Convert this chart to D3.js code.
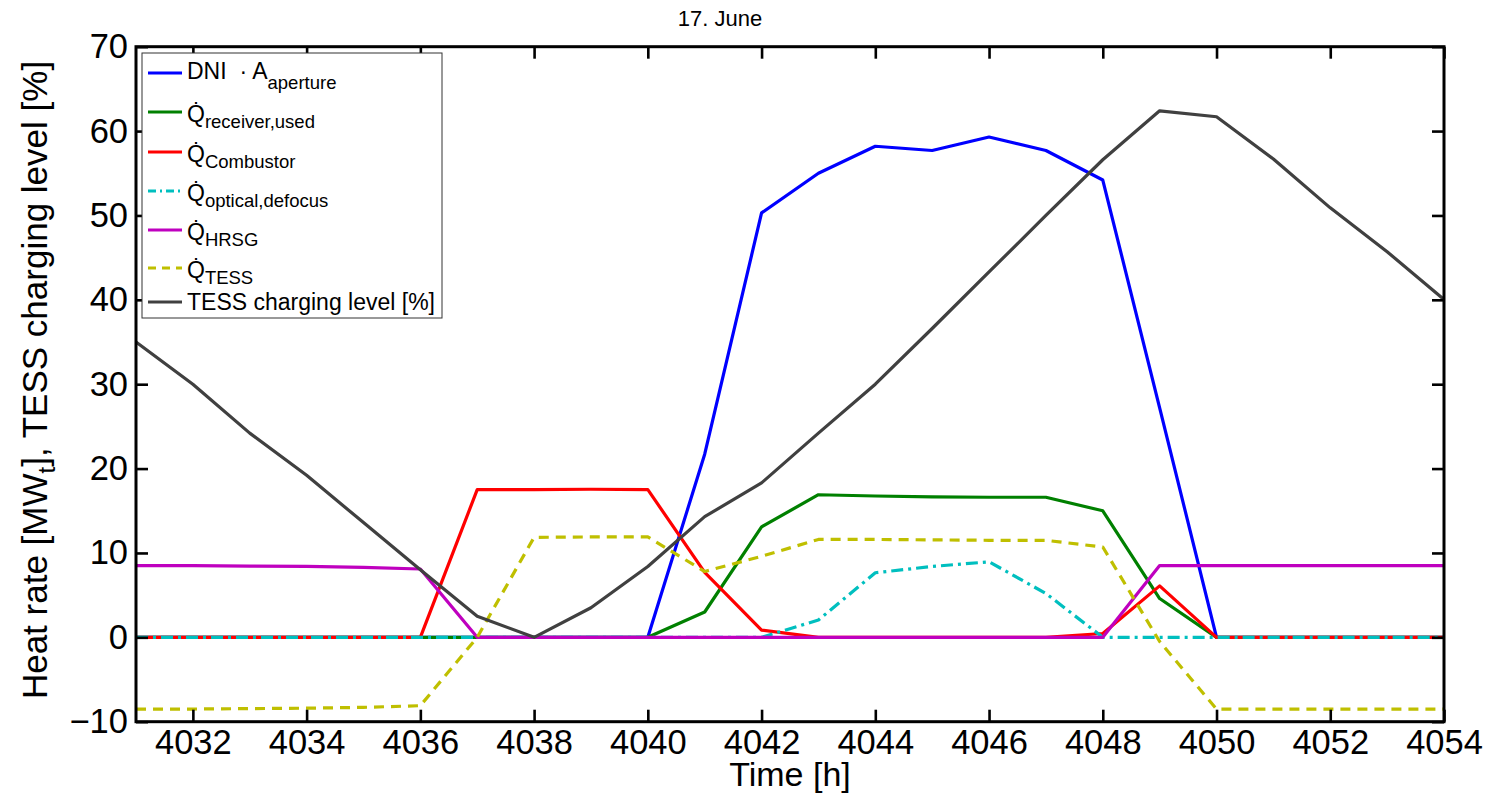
<!DOCTYPE html>
<html>
<head>
<meta charset="utf-8">
<script src="https://cdn.jsdelivr.net/npm/d3@7"></script>
<style>
    body { margin: 0; background: #fff; }
    text { font-family: "Liberation Sans", Arial, sans-serif; }
    .axis text { font-size: 34.5px; fill: #000; }
    .axis line { stroke: #000; stroke-width: 2.6px; }
    .axis path { display: none; }
    .line { fill: none; stroke-width: 3.2px; stroke-linejoin: round; }
</style>
</head>
<body>
<div id="chart"></div>
<script>
// chart values
let hours = [4031, 4032, 4033, 4034, 4035, 4036, 4037, 4038, 4039, 4040, 4041, 4042,
    4043, 4044, 4045, 4046, 4047, 4048, 4049, 4050, 4051, 4052, 4053, 4054];
let dni = [0, 0, 0, 0, 0, 0, 0, 0, 0, 0, 21.7, 50.3, 55.0, 58.2, 57.7, 59.3, 57.7, 54.2, 27.2, 0, 0, 0, 0, 0];
let receiverUsed = [0, 0, 0, 0, 0, 0, 0, 0, 0, 0, 3.0, 13.1, 16.9, 16.75, 16.65, 16.6, 16.6, 15.0, 4.6, 0, 0, 0, 0, 0];
let combustor = [0, 0, 0, 0, 0, 0, 17.5, 17.5, 17.55, 17.5, 7.7, 0.85, 0, 0, 0, 0, 0, 0.45, 6.1, 0, 0, 0, 0, 0];
let opticalDefocus = [0, 0, 0, 0, 0, 0, 0, 0, 0, 0, 0, 0, 2.05, 7.65, 8.4, 8.95, 5.2, 0, 0, 0, 0, 0, 0, 0];
let hrsg = [8.5, 8.5, 8.45, 8.4, 8.3, 8.1, 0, 0, 0, 0, 0, 0, 0, 0, 0, 0, 0, 0, 8.5, 8.5, 8.5, 8.5, 8.5, 8.5];
let tess = [-8.5, -8.5, -8.45, -8.4, -8.3, -8.1, 0, 11.85, 11.9, 11.9, 7.8, 9.6, 11.6, 11.6, 11.55, 11.5, 11.5, 10.7, -0.5, -8.5, -8.5, -8.5, -8.5, -8.5];
let chargingLevel = [35.0, 30.0, 24.2, 19.2, 13.6, 8.0, 2.5, 0, 3.5, 8.4, 14.3, 18.3, 24.2, 30.0, 36.6, 43.3, 50.0, 56.6, 62.4, 61.7, 56.7, 50.9, 45.7, 40.05];

let xTicks = [4032, 4034, 4036, 4038, 4040, 4042, 4044, 4046, 4048, 4050, 4052, 4054];
let yTicks = [-10, 0, 10, 20, 30, 40, 50, 60, 70];

let series = [
    {values: dni, color: "#0000ff", dash: null},
    {values: receiverUsed, color: "#008000", dash: null},
    {values: combustor, color: "#ff0000", dash: null},
    {values: opticalDefocus, color: "#00bfbf", dash: "12,5,3,5"},
    {values: hrsg, color: "#bf00bf", dash: null},
    {values: tess, color: "#bfbf00", dash: "10,7"},
    {values: chargingLevel, color: "#404040", dash: null}
];

let W = 1491, H = 796;
let plot = {left: 136, right: 1444, top: 46.7, bottom: 721.7};

let x = d3.scaleLinear().domain([4031, 4054]).range([plot.left, plot.right]);
let y = d3.scaleLinear().domain([-10, 70]).range([plot.bottom, plot.top]);

let svg = d3.select("#chart").append("svg")
    .attr("width", W)
    .attr("height", H);

// title
svg.append("text")
    .attr("x", 720).attr("y", 26)
    .attr("text-anchor", "middle")
    .style("font-size", "22px")
    .text("17. June");

// lines
let line = d3.line()
    .x((d, i) => x(hours[i]))
    .y((d) => y(d));

series.forEach(function (s) {
    svg.append("path")
        .datum(s.values)
        .attr("class", "line")
        .attr("stroke", s.color)
        .attr("stroke-dasharray", s.dash)
        .attr("d", line);
});

// axes, ticks pointing inward
svg.append("g")
    .attr("class", "axis")
    .attr("transform", "translate(0," + plot.bottom + ")")
    .call(d3.axisBottom(x).tickValues(xTicks).tickFormat(d3.format("d"))
        .tickSize(-12).tickSizeOuter(0).tickPadding(8));
svg.append("g")
    .attr("class", "axis")
    .attr("transform", "translate(0," + plot.top + ")")
    .call(d3.axisTop(x).tickValues(xTicks).tickSize(-12).tickSizeOuter(0).tickFormat(""));
svg.append("g")
    .attr("class", "axis")
    .attr("transform", "translate(" + plot.left + ",0)")
    .call(d3.axisLeft(y).tickValues(yTicks).tickSize(-12).tickSizeOuter(0).tickPadding(8));
svg.append("g")
    .attr("class", "axis")
    .attr("transform", "translate(" + plot.right + ",0)")
    .call(d3.axisRight(y).tickValues(yTicks).tickSize(-12).tickSizeOuter(0).tickFormat(""));

// box
svg.append("rect")
    .attr("x", plot.left).attr("y", plot.top)
    .attr("width", plot.right - plot.left)
    .attr("height", plot.bottom - plot.top)
    .attr("fill", "none")
    .attr("stroke", "#000")
    .attr("stroke-width", 3);

// axis labels
svg.append("text")
    .attr("x", (plot.left + plot.right) / 2).attr("y", 786)
    .attr("text-anchor", "middle")
    .style("font-size", "34px")
    .text("Time [h]");

let yl = svg.append("text")
    .attr("transform", "translate(47,380) rotate(-90)")
    .attr("text-anchor", "middle")
    .style("font-size", "35px");
yl.append("tspan").text("Heat rate [MW");
yl.append("tspan").attr("dy", 8).style("font-size", "24px").text("t");
yl.append("tspan").attr("dy", -8).text("], TESS charging level [%]");

// legend
let lg = svg.append("g");
lg.append("rect")
    .attr("x", 142).attr("y", 53)
    .attr("width", 300).attr("height", 265)
    .attr("fill", "#fff")
    .attr("stroke", "#333")
    .attr("stroke-width", 1);

let legendRows = [
    {main: "DNI  \u00b7 A", sub: "aperture", ly: 73, dy: 6},
    {main: "Q\u0307", sub: "receiver,used", ly: 112, dy: 10},
    {main: "Q\u0307", sub: "Combustor", ly: 152, dy: 10},
    {main: "Q\u0307", sub: "optical,defocus", ly: 191, dy: 10},
    {main: "Q\u0307", sub: "HRSG", ly: 230, dy: 10},
    {main: "Q\u0307", sub: "TESS", ly: 268, dy: 10},
    {main: "TESS charging level [%]", sub: null, ly: 302, dy: 8}
];

legendRows.forEach(function (r, i) {
    lg.append("line")
        .attr("x1", 148).attr("x2", 182)
        .attr("y1", r.ly).attr("y2", r.ly)
        .attr("stroke", series[i].color)
        .attr("stroke-width", 3)
        .attr("stroke-dasharray", series[i].dash ? (i === 3 ? "8,4,2,4" : "8,6") : null);
    let t = lg.append("text")
        .attr("x", 187).attr("y", r.ly + r.dy)
        .style("font-size", "23px")
        .attr("xml:space", "preserve");
    t.append("tspan").text(r.main);
    if (r.sub) {
        t.append("tspan")
            .attr("dy", 16 - r.dy)
            .style("font-size", "18.5px")
            .text(r.sub);
    }
});
</script>
</body>
</html>
